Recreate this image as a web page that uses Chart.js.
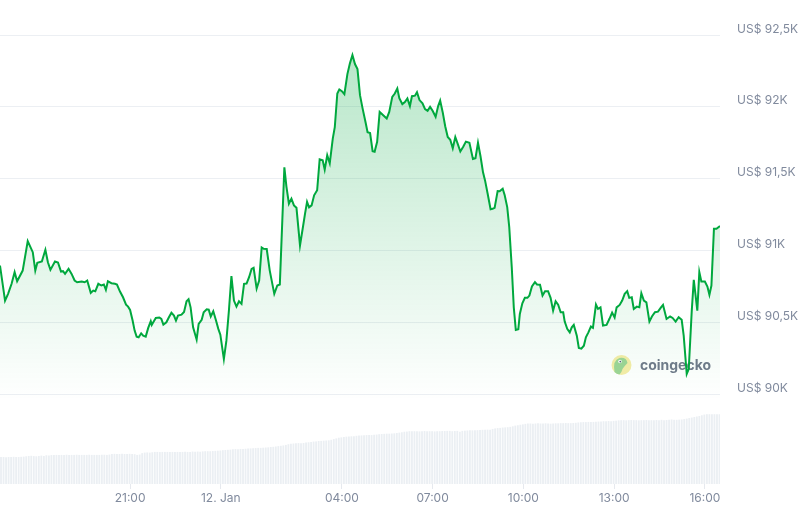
<!DOCTYPE html>
<html><head><meta charset="utf-8">
<script src="https://cdn.jsdelivr.net/npm/chart.js@4.4.1/dist/chart.umd.min.js"></script>
<style>html,body{margin:0;padding:0;background:#fff}canvas{display:block}</style>
</head><body>
<canvas id="c" width="801" height="522"></canvas>
<script>
// Minutes relative to 00:00 on 12 Jan
const priceTimes = [
-438,-428,-422,-415,-409,-404,-393,-383,-373,-368,-364,-355,-348,-343,-338,-329,-323,-317,-313,-309,-302,-296,-290,-285,-276,-270,-265,-258,-253,-249,-243,-237,-232,-228,-224,-217,-210,-206,-200,
-194,-188,-184,-180,-175,-171,-167,-163,-158,-154,-149,-144,-139,-137,-134,-129,-122,-118,-114,-108,-103,-98,-93,-89,-85,-78,-73,-68,-64,-60,-55,-48,-44,-38,-34,-28,-24,-20,-15,-10,-5,-1,6,11,16,21,26,31,36,41,
46,51,56,61,65,71,76,81,85,91,97,106,112,117,126,130,135,140,145,150,157,163,167,171,175,180,185,191,196,202,206,211,216,222,226,231,235,240,245,251,256,261,266,271,276,281,287,
291,296,301,305,310,315,322,329,334,340,345,350,354,360,365,370,375,379,385,389,394,400,405,410,415,420,426,431,435,440,445,450,455,460,465,470,475,481,486,493,500,505,510,515,520,524,529,535,539,543,549,553,559,563,568,572,577,581,585,590,
593,598,603,608,612,617,623,627,633,638,643,649,654,659,664,669,674,679,682,687,692,696,700,706,710,715,720,724,729,734,738,744,748,753,758,765,771,776,781,785,
791,796,801,806,810,815,819,825,830,834,839,844,850,855,861,867,873,877,884,891,896,902,908,914,918,924,928,934,938,942,945,949,953,960,965,969,973,978,983,990
];
const prices = [
90895,90651,90698,90768,90849,90786,90860,91065,90988,90860,90914,90923,91005,90918,90865,90923,90916,90853,90856,90837,90872,90837,90791,90779,90784,90779,90791,90705,90721,90716,90768,90756,90763,90726,90786,90772,90768,90763,90714,
90674,90623,90609,90586,90512,90442,90400,90395,90423,90407,90400,90461,90507,90482,90500,90530,90533,90523,90484,90500,90535,90567,90547,90512,90547,90553,90572,90646,90660,90604,90465,90379,90489,90517,90570,90590,90588,90540,90577,90517,90454,90414,90244,90372,90581,90821,90651,90609,90646,90628,
90768,90770,90814,90872,90879,90735,90791,91021,91012,91010,90860,90698,90756,90763,91579,91447,91326,91361,91314,91297,91035,91167,91256,91338,91300,91314,91384,91419,91635,91628,91563,91663,91607,91779,91858,92093,92121,92109,92088,92228,92303,92361,92298,92263,92081,91991,91893,
91823,91818,91691,91687,91757,91965,91942,91919,91965,92070,92093,92128,92061,92019,92033,92058,92005,92074,92078,92102,92047,92024,91984,91972,92000,91973,91931,92005,92044,91963,91865,91790,91771,91712,91790,91740,91689,91724,91758,91750,91637,91643,91750,91656,91544,91488,91398,91287,91290,91297,91413,91412,91430,91384,91302,91163,90883,90604,90447,90452,
90558,90632,90670,90670,90686,90749,90779,90763,90761,90686,90716,90716,90670,90581,90646,90623,90570,90570,90505,90454,90430,90465,90482,90407,90321,90316,90337,90395,90430,90470,90461,90623,90593,90604,90477,90482,90526,90567,90533,90604,
90621,90651,90698,90716,90670,90674,90593,90609,90604,90702,90651,90639,90505,90540,90570,90574,90604,90621,90523,90540,90530,90505,90535,90517,90407,90140,90175,90581,90796,90674,90581,90849,90784,90784,90749,90691,90756,91151,91151,91170
];
// Volume bars (billion US$), one per 5 minutes starting at volumeStart
const volumeStart = -436;
const volumeStep = 5;
const volumes = [
15.4,15.4,15.3,15.4,15.4,15.5,15.4,15.4,15.5,15.6,
15.8,16.0,16.1,15.9,15.8,16.0,16.2,16.0,
16.4,16.3,16.5,16.6,16.6,16.5,16.6,16.6,16.7,16.6,16.6,16.6,16.7,16.6,16.6,16.6,16.6,16.7,16.6,16.6,16.6,16.6,16.7,16.7,16.6,16.8,
17.1,17.2,17.1,17.1,17.2,17.1,17.1,17.2,17.1,17.0,
16.6,16.8,
17.6,17.9,18.0,17.9,
18.1,18.3,18.3,18.2,18.3,18.3,18.3,18.3,18.3,18.3,18.3,18.3,18.3,18.4,18.3,18.3,18.5,18.4,18.5,
18.4,18.6,18.7,18.7,18.7,18.8,18.9,19.0,19.1,19.3,19.4,
19.5,19.6,19.8,19.9,19.8,20.0,19.9,20.1,20.2,20.3,
20.4,20.5,20.6,20.6,20.7,20.8,20.9,21.1,21.2,
21.4,21.6,21.8,22.0,22.3,
22.7,22.9,23.1,23.2,23.3,23.3,23.4,23.6,23.8,
24.0,24.2,24.3,24.5,24.6,24.7,24.8,24.9,25.2,25.6,
26.0,26.4,26.6,26.8,27.0,27.1,27.2,27.3,27.5,
27.6,27.7,27.8,27.9,28.0,27.9,28.1,28.2,
28.4,28.5,28.6,28.7,28.7,28.8,28.9,29.1,29.3,29.5,29.8,29.9,
30.1,30.1,30.1,30.1,30.0,30.1,30.2,30.1,30.1,30.1,30.0,30.1,30.1,30.2,30.2,30.3,30.3,30.1,30.2,30.3,29.8,30.3,30.4,30.5,30.6,30.6,
30.6,30.7,30.8,30.9,30.9,31.0,31.0,
31.4,31.7,31.9,32.0,32.2,32.3,32.4,32.6,32.9,
33.3,33.5,33.8,34.0,
34.3,34.5,34.5,34.4,34.5,34.6,34.5,34.5,34.6,34.5,34.4,34.5,34.6,
34.6,34.7,34.7,34.8,34.7,34.7,34.8,34.9,
35.1,35.2,35.3,35.3,35.4,35.3,35.4,35.5,
35.6,35.7,35.8,35.8,35.9,35.8,36.0,36.1,
36.3,36.4,36.4,36.3,36.4,36.5,36.4,36.4,36.3,36.4,36.4,36.5,36.3,36.4,36.4,36.5,36.4,36.6,
36.4,36.5,36.6,36.8,36.6,36.6,36.7,36.8,37.0,
37.3,37.6,37.9,38.2,38.5,38.8,39.2,
39.6,39.8,39.8,39.8,39.8,39.8,39.8
];
const priceTicks = [90000, 90500, 91000, 91500, 92000, 92500];
const priceTickLabels = ['US$ 90K', 'US$ 90,5K', 'US$ 91K', 'US$ 91,5K', 'US$ 92K', 'US$ 92,5K'];
const timeTicks = [-180, 0, 240, 420, 600, 780, 960];
const timeTickLabels = ['21:00', '12. Jan', '04:00', '07:00', '10:00', '13:00', '16:00'];

const pricePoints = priceTimes.map((t, i) => ({x: t, y: prices[i]}));
const volumePoints = volumes.map((v, i) => ({x: volumeStart + i * volumeStep, y: v}));

const FONT = 'Inter, "Noto Sans", sans-serif';
const GREY = '#808a9d';

const logoPlugin = {
  id: 'logo',
  beforeDatasetsDraw(chart) {
    const c = chart.ctx;
    c.save();
    const cx = 621.5, cy = 365;
    c.fillStyle = '#f6eda8';
    c.beginPath(); c.arc(cx, cy, 10, 0, Math.PI * 2); c.fill();
    c.fillStyle = '#9ed596';
    c.beginPath();
    c.moveTo(cx - 7, cy + 7);
    c.quadraticCurveTo(cx - 9, cy - 5, cx - 2, cy - 7);
    c.quadraticCurveTo(cx + 5, cy - 8, cx + 6, cy - 2);
    c.quadraticCurveTo(cx + 3, cy + 1, cx + 1, cy + 4);
    c.quadraticCurveTo(cx, cy + 8, cx - 2, cy + 9.5);
    c.quadraticCurveTo(cx - 5, cy + 9, cx - 7, cy + 7);
    c.fill();
    c.fillStyle = '#ffffff';
    c.beginPath(); c.arc(cx - 1.5, cy - 3.5, 1.8, 0, Math.PI * 2); c.fill();
    c.fillStyle = '#5a6270';
    c.beginPath(); c.arc(cx - 1.2, cy - 3.4, 0.9, 0, Math.PI * 2); c.fill();
    let size = 14;
    c.font = 'bold ' + size + 'px ' + FONT;
    const w = c.measureText('coingecko').width;
    size = size * 71 / w;
    c.font = 'bold ' + size.toFixed(2) + 'px ' + FONT;
    c.fillStyle = '#717a8b';
    c.textBaseline = 'middle';
    c.textAlign = 'left';
    c.fillText('coingecko', 640, 365.5);
    c.restore();
  }
};

new Chart(document.getElementById('c'), {
  data: {
    datasets: [
      {
        type: 'line',
        data: pricePoints,
        yAxisID: 'y',
        borderColor: '#00a83e',
        borderWidth: 2,
        pointRadius: 0,
        tension: 0,
        order: 1,
        fill: {value: 89955},
        backgroundColor: (ctx) => {
          const ch = ctx.chart;
          const area = ch.chartArea;
          if (!area) return 'rgba(0,168,62,0.15)';
          const g = ch.ctx.createLinearGradient(0, area.top, 0, 400);
          g.addColorStop(0, 'rgba(0,168,62,0.32)');
          g.addColorStop(1, 'rgba(0,168,62,0)');
          return g;
        }
      },
      {
        type: 'bar',
        data: volumePoints,
        yAxisID: 'yv',
        backgroundColor: '#ebeff3',
        borderWidth: 0,
        barPercentage: 0.72,
        categoryPercentage: 1,
        order: 2
      }
    ]
  },
  options: {
    responsive: false,
    animation: false,
    devicePixelRatio: 1,
    layout: {padding: {left: 0, right: 0, top: 0, bottom: 14.6}},
    plugins: {legend: {display: false}, tooltip: {enabled: false}},
    scales: {
      x: {
        type: 'linear',
        position: 'bottom',
        min: -438,
        max: 990,
        offset: false,
        border: {display: false},
        grid: {display: true, offset: false, drawOnChartArea: false, drawTicks: true, tickLength: 5, color: '#e6e9ee'},
        afterBuildTicks: (s) => { s.ticks = timeTicks.map(v => ({value: v})); },
        afterFit: (s) => { s.paddingLeft = 0; s.paddingRight = 0; },
        ticks: {
          padding: 2,
          color: GREY,
          font: {family: FONT, size: 12},
          maxRotation: 0,
          autoSkip: false,
          callback: (v) => timeTickLabels[timeTicks.indexOf(v)]
        }
      },
      y: {
        type: 'linear',
        position: 'right',
        min: 89374,
        max: 92744,
        border: {display: false},
        grid: {color: '#eceff3', drawTicks: false, lineWidth: 1},
        afterBuildTicks: (s) => { s.ticks = priceTicks.map(v => ({value: v})); },
        afterFit: (s) => { s.width = 81; s.paddingTop = 0; s.paddingBottom = 0; },
        ticks: {
          padding: 17,
          color: GREY,
          labelOffset: -6,
          font: {family: FONT, size: 12},
          callback: (v) => priceTickLabels[priceTicks.indexOf(v)]
        }
      },
      yv: {
        type: 'linear',
        display: false,
        min: 0,
        max: 276
      }
    }
  },
  plugins: [logoPlugin]
});
</script>
</body></html>
